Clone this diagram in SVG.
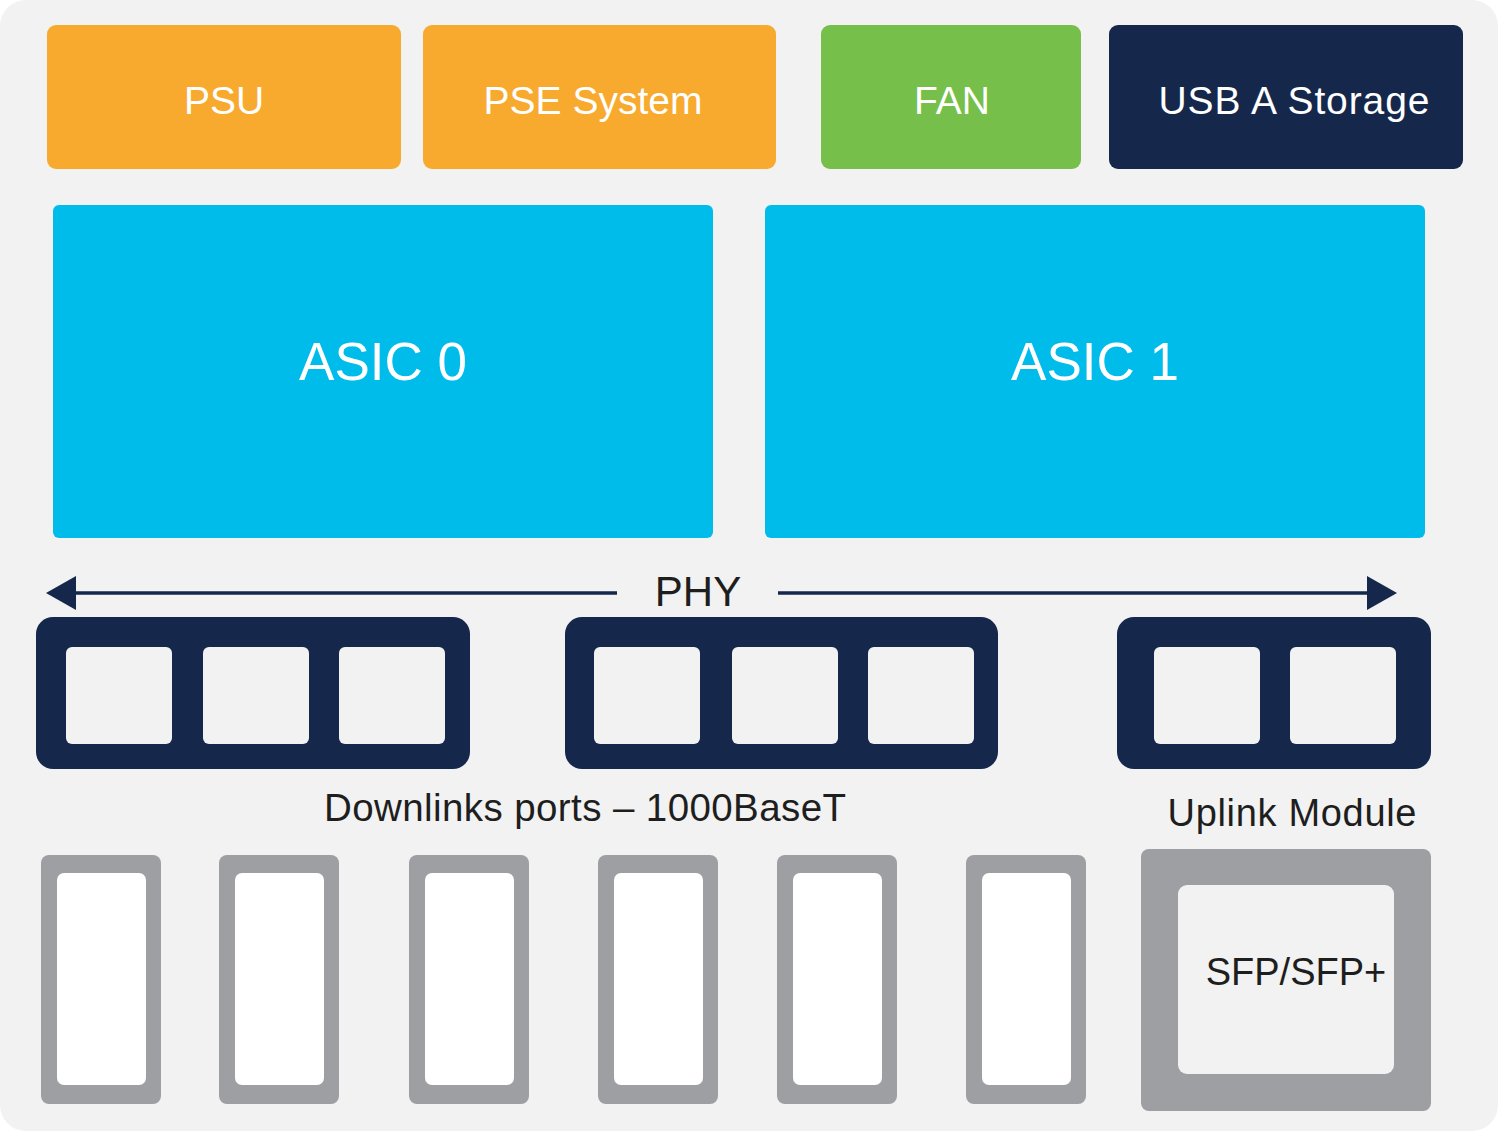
<svg xmlns="http://www.w3.org/2000/svg" width="1500" height="1136" viewBox="0 0 1500 1136">
<defs>
<style>
.lbl{font-family:"Liberation Sans",Arial,sans-serif;text-anchor:middle}
.w{fill:#ffffff}
.d{fill:#1e1e1e}
.org{fill:#F8AA2F}
.navy{fill:#15284B}
.cyan{fill:#00BCEB}
.grey{fill:#9E9FA3}
.sq{fill:#F2F2F2}
.wh{fill:#ffffff}
</style>
<marker id="ah" viewBox="0 0 30 34" refX="0" refY="17" markerWidth="30" markerHeight="34" markerUnits="userSpaceOnUse" orient="auto">
<path d="M0,0 L30,17 L0,34 Z" fill="#15284B"/>
</marker>
</defs>
<rect x="0" y="0" width="1500" height="1136" fill="#ffffff"/>
<rect id="chassis" x="0" y="0" width="1498" height="1131" rx="26" fill="#F2F2F2"/>

<g id="psu"><rect class="org" x="47" y="25" width="354" height="144" rx="9"/><text class="lbl w" x="224" y="114" font-size="39">PSU</text></g>
<g id="pse"><rect class="org" x="423" y="25" width="353" height="144" rx="9"/><text class="lbl w" x="593" y="114" font-size="39">PSE System</text></g>
<g id="fan"><rect x="821" y="25" width="260" height="144" rx="9" fill="#76BF4A"/><text class="lbl w" x="952" y="114" font-size="39">FAN</text></g>
<g id="usb"><rect class="navy" x="1109" y="25" width="354" height="144" rx="9"/><text class="lbl w" x="1294" y="114" font-size="39" textLength="271" lengthAdjust="spacing">USB A Storage</text></g>

<g id="asic0"><rect class="cyan" x="53" y="205" width="660" height="333" rx="6"/><text class="lbl w" x="383" y="380" font-size="53">ASIC 0</text></g>
<g id="asic1"><rect class="cyan" x="765" y="205" width="660" height="333" rx="6"/><text class="lbl w" x="1095" y="380" font-size="53">ASIC 1</text></g>

<g id="connectors">
<line x1="617" y1="593" x2="76" y2="593" stroke="#15284B" stroke-width="3.5" marker-end="url(#ah)"/>
<line x1="778" y1="593" x2="1367" y2="593" stroke="#15284B" stroke-width="3.5" marker-end="url(#ah)"/>
</g>
<g id="phy"><text class="lbl d" x="698" y="606" font-size="42">PHY</text></g>

<g id="downlink-group-1">
<rect class="navy" x="36" y="617" width="434" height="152" rx="17"/>
<rect class="sq" x="66" y="647" width="106" height="97" rx="6"/>
<rect class="sq" x="203" y="647" width="106" height="97" rx="6"/>
<rect class="sq" x="339" y="647" width="106" height="97" rx="6"/>
</g>
<g id="downlink-group-2">
<rect class="navy" x="565" y="617" width="433" height="152" rx="17"/>
<rect class="sq" x="594" y="647" width="106" height="97" rx="6"/>
<rect class="sq" x="732" y="647" width="106" height="97" rx="6"/>
<rect class="sq" x="868" y="647" width="106" height="97" rx="6"/>
</g>
<g id="uplink-group">
<rect class="navy" x="1117" y="617" width="314" height="152" rx="17"/>
<rect class="sq" x="1154" y="647" width="106" height="97" rx="6"/>
<rect class="sq" x="1290" y="647" width="106" height="97" rx="6"/>
</g>

<g id="downlinks-label"><text class="lbl d" x="585" y="821" font-size="38.5" textLength="522" lengthAdjust="spacing">Downlinks ports – 1000BaseT</text></g>
<g id="uplink-label"><text class="lbl d" x="1292" y="826" font-size="38" textLength="249" lengthAdjust="spacing">Uplink Module</text></g>

<g id="port1"><rect class="grey" x="41" y="855" width="120" height="249" rx="8"/><rect class="wh" x="57" y="873" width="89" height="212" rx="7"/></g>
<g id="port2"><rect class="grey" x="219" y="855" width="120" height="249" rx="8"/><rect class="wh" x="235" y="873" width="89" height="212" rx="7"/></g>
<g id="port3"><rect class="grey" x="409" y="855" width="120" height="249" rx="8"/><rect class="wh" x="425" y="873" width="89" height="212" rx="7"/></g>
<g id="port4"><rect class="grey" x="598" y="855" width="120" height="249" rx="8"/><rect class="wh" x="614" y="873" width="89" height="212" rx="7"/></g>
<g id="port5"><rect class="grey" x="777" y="855" width="120" height="249" rx="8"/><rect class="wh" x="793" y="873" width="89" height="212" rx="7"/></g>
<g id="port6"><rect class="grey" x="966" y="855" width="120" height="249" rx="8"/><rect class="wh" x="982" y="873" width="89" height="212" rx="7"/></g>

<g id="sfp">
<rect class="grey" x="1141" y="849" width="290" height="262" rx="8"/>
<rect class="sq" x="1178" y="885" width="216" height="189" rx="9"/>
<text class="lbl d" x="1296" y="985" font-size="38">SFP/SFP+</text>
</g>
</svg>
